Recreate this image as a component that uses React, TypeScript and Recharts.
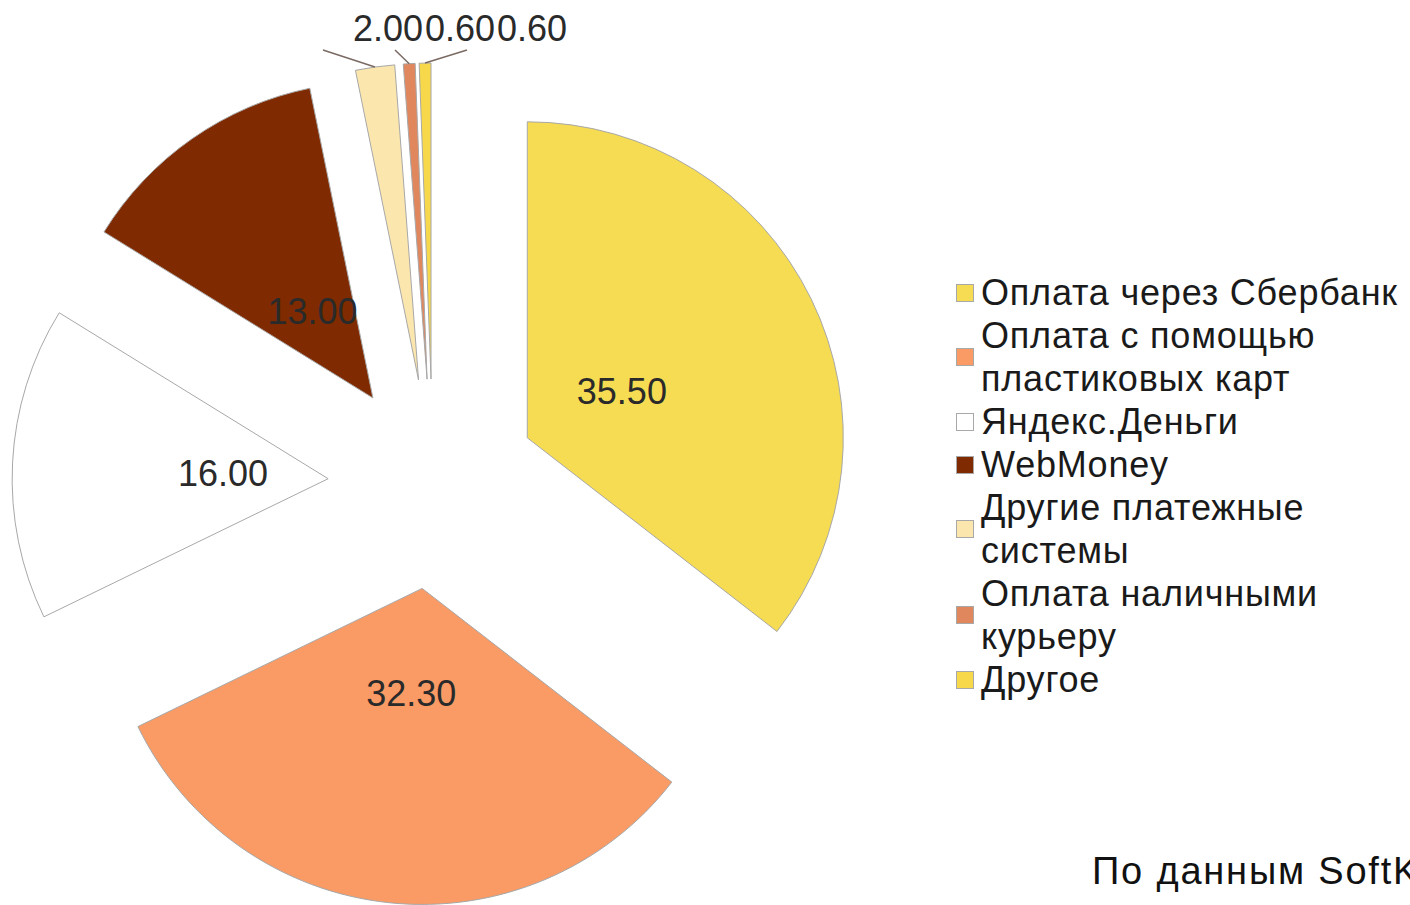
import { Legend, Pie, PieChart, Sector } from 'recharts';

const categories = [
  'Оплата через Сбербанк',
  'Оплата с помощью пластиковых карт',
  'Яндекс.Деньги',
  'WebMoney',
  'Другие платежные системы',
  'Оплата наличными курьеру',
  'Другое',
];
const shares = [35.5, 32.3, 16.0, 13.0, 2.0, 0.6, 0.6];
const colors = ['#f6dc52', '#fa9a64', '#ffffff', '#7f2a00', '#fbe6ad', '#e0875e', '#f6d84a'];

const data = categories.map((name, i) => ({ name, value: shares[i], fill: colors[i] }));

const EXPLODE = 105;
const RAD = Math.PI / 180;
const FONT = '"Liberation Sans", Arial, sans-serif';

function ExplodedSector(props: any) {
  const dx = EXPLODE * Math.cos(-props.midAngle * RAD);
  const dy = EXPLODE * Math.sin(-props.midAngle * RAD);
  return <Sector {...props} cx={props.cx + dx} cy={props.cy + dy} stroke="#a8a8a8" strokeWidth={1} />;
}

function renderLabel(props: any) {
  const { cx, cy, midAngle, outerRadius, value, index, percent } = props;
  const cos = Math.cos(-midAngle * RAD);
  const sin = Math.sin(-midAngle * RAD);
  const text = Number(value).toFixed(2);
  if (percent > 0.05) {
    const r = EXPLODE + outerRadius / 3;
    return (
      <text x={cx + r * cos} y={cy + r * sin} textAnchor="middle" dominantBaseline="central" fill="#2a2a2a" fontSize={36} fontFamily={FONT}>
        {text}
      </text>
    );
  }
  // small slices: labels in a row above the pie, with leader lines
  const k = index - 4;
  const tipX = cx + EXPLODE * cos + outerRadius * cos;
  const tipY = cy + EXPLODE * sin + outerRadius * sin;
  const rowTop = cy - EXPLODE - outerRadius;
  const textX = cx - 80 + k * 72;
  return (
    <g>
      <polyline points={`${tipX},${tipY} ${textX - 30},${rowTop - 13}`} stroke="#7a6a62" strokeWidth={1.5} fill="none" />
      <text x={textX} y={rowTop - 35} textAnchor="start" dominantBaseline="central" fill="#2a2a2a" fontSize={36} fontFamily={FONT}>
        {text}
      </text>
    </g>
  );
}

function LegendList() {
  return (
    <div style={{ fontFamily: FONT, fontSize: 36, letterSpacing: 0.8, lineHeight: '43px', color: '#1a1a1a' }}>
      {categories.map((name, i) => (
        <div key={name} style={{ display: 'flex', alignItems: 'center' }}>
          <span style={{ width: 16, height: 16, background: colors[i], border: '1px solid #a8a8a8', marginRight: 7, flex: 'none' }} />
          <span style={{ width: 428 }}>{name}</span>
        </div>
      ))}
    </div>
  );
}

export default function App() {
  return (
    <div style={{ position: 'absolute', left: 0, top: 0, width: 1410, height: 905, overflow: 'hidden', background: '#fff' }}>
      <PieChart width={1410} height={905} margin={{ top: 0, right: 0, bottom: 0, left: 0 }}>
        <Pie
          data={data}
          dataKey="value"
          nameKey="name"
          cx={433}
          cy={484}
          outerRadius={316}
          startAngle={90}
          endAngle={-270}
          shape={ExplodedSector}
          label={renderLabel}
          labelLine={false}
          isAnimationActive={false}
        />
        <Legend
          layout="vertical"
          align="right"
          verticalAlign="top"
          content={() => <LegendList />}
          wrapperStyle={{ left: 956, top: 271, right: 'auto', width: 454 }}
        />
      </PieChart>
      <div style={{ position: 'absolute', left: 1092, top: 850, fontFamily: FONT, fontSize: 38, letterSpacing: 1.8, color: '#111', whiteSpace: 'nowrap' }}>
        По данным SoftKey
      </div>
    </div>
  );
}
